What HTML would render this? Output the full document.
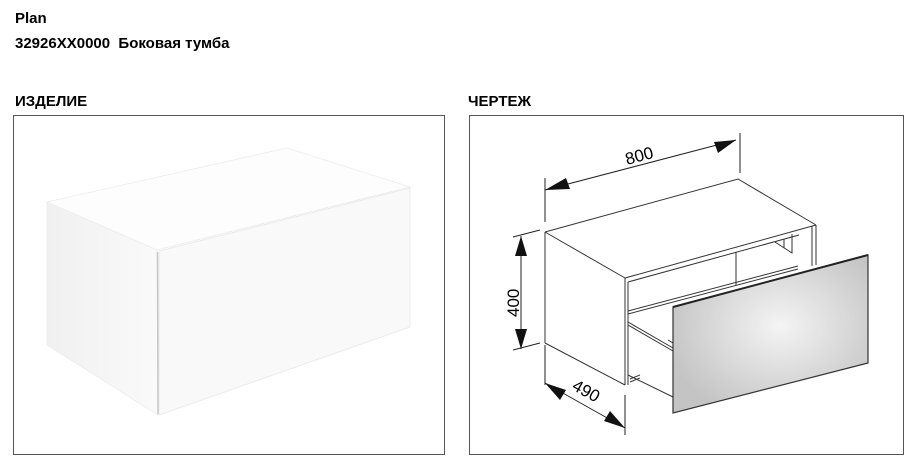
<!DOCTYPE html>
<html><head><meta charset="utf-8"><style>
html,body{margin:0;padding:0;background:#fff;}
svg{display:block}
text{font-family:"Liberation Sans",Arial,sans-serif;}
</style></head><body>
<svg width="918" height="466" viewBox="0 0 918 466" xmlns="http://www.w3.org/2000/svg">
<defs>
<radialGradient id="g" cx="0.55" cy="0.45" r="0.6">
<stop offset="0" stop-color="#f4f4f4"/><stop offset="1" stop-color="#c4c4c4"/>
</radialGradient>
<linearGradient id="side" x1="0" y1="0" x2="1" y2="0">
<stop offset="0" stop-color="#f0f0f0"/><stop offset="1" stop-color="#fafafa"/>
</linearGradient>
</defs>
<text x="15" y="23" font-size="15" font-weight="bold">Plan</text>
<text x="15" y="48" font-size="15" font-weight="bold" xml:space="preserve">32926XX0000  Боковая тумба</text>
<text x="15" y="106" font-size="15" font-weight="bold">ИЗДЕЛИЕ</text>
<text x="468" y="106" font-size="15" font-weight="bold">ЧЕРТЕЖ</text>

<rect x="13.5" y="115.5" width="431" height="339" fill="none" stroke="#555" stroke-width="1"/>
<rect x="469.5" y="115.5" width="434" height="339" fill="none" stroke="#555" stroke-width="1"/>

<!-- left photo box -->
<polygon points="47,202 287,148 410,187 157,250" fill="#fdfdfd" stroke="#ececec" stroke-width="0.8"/>
<polygon points="47,202 157,250 158,415 47,345" fill="url(#side)" stroke="#ececec" stroke-width="0.8"/>
<polygon points="159,251 410,188 410,327 159,415" fill="#f9f9f9" stroke="#e8e8e8" stroke-width="0.8"/>
<line x1="157.5" y1="252" x2="158" y2="414" stroke="#c8c8c8" stroke-width="1.5"/>

<!-- right drawing -->
<g stroke="#333" stroke-width="1" fill="none">
<polyline points="545,232 738,179 816,225"/>
<line x1="545" y1="232" x2="625" y2="278"/>
<line x1="625" y1="278" x2="816" y2="225"/>
<line x1="628" y1="282" x2="799" y2="235"/>
<line x1="545" y1="232" x2="545" y2="343"/>
<line x1="545" y1="343" x2="625" y2="385"/>
<line x1="625" y1="278" x2="625" y2="385"/>
<line x1="628" y1="282" x2="628" y2="385"/>
<line x1="816" y1="225" x2="816" y2="265"/>
<line x1="812" y1="226" x2="812" y2="266"/>
<line x1="736" y1="252" x2="736" y2="285"/>
<polyline points="775,242 792,253 792,252 792,234"/>
<line x1="784" y1="239" x2="784" y2="248"/>
<line x1="628" y1="311" x2="798" y2="266"/>
<line x1="628" y1="314" x2="798" y2="269"/>
<line x1="628" y1="322" x2="673" y2="348"/>
<line x1="628" y1="325" x2="673" y2="351"/>
<line x1="668" y1="340" x2="673" y2="343"/>
<line x1="628" y1="375" x2="673" y2="397"/>
<line x1="630" y1="382" x2="640" y2="378"/>
<line x1="630" y1="379" x2="640" y2="375"/>
</g>
<polygon points="673,307 868,255 868,363 673,413" fill="url(#g)" stroke="#333" stroke-width="1.2"/>
<line x1="673" y1="307" x2="868" y2="255" stroke="#222" stroke-width="2"/>

<g stroke="#222" stroke-width="1" fill="#111">
<line x1="545" y1="178" x2="545" y2="222"/>
<line x1="740" y1="133" x2="740" y2="173"/>
<line x1="545" y1="190" x2="736" y2="140"/>
<polygon points="545,190 566,178 570,189" stroke="none"/>
<polygon points="736,140 714,142 718,153" stroke="none"/>
<line x1="513" y1="237" x2="540" y2="230"/>
<line x1="513" y1="350" x2="540" y2="343"/>
<line x1="521" y1="236" x2="521" y2="349"/>
<polygon points="521,236 515,256 527,256" stroke="none"/>
<polygon points="521,349 515,329 527,329" stroke="none"/>
<line x1="545" y1="345" x2="545" y2="385"/>
<line x1="625" y1="395" x2="625" y2="435"/>
<line x1="545" y1="383" x2="625" y2="428"/>
<polygon points="545,383 566,390 560,400" stroke="none"/>
<polygon points="625,428 604,421 610,411" stroke="none"/>
</g>
<text x="0" y="0" font-size="17" transform="translate(627,165) rotate(-15)">800</text>
<text x="0" y="0" font-size="17" transform="translate(519,317) rotate(-90)">400</text>
<text x="0" y="0" font-size="17" transform="translate(571,389) rotate(29)">490</text>
</svg>
</body></html>
